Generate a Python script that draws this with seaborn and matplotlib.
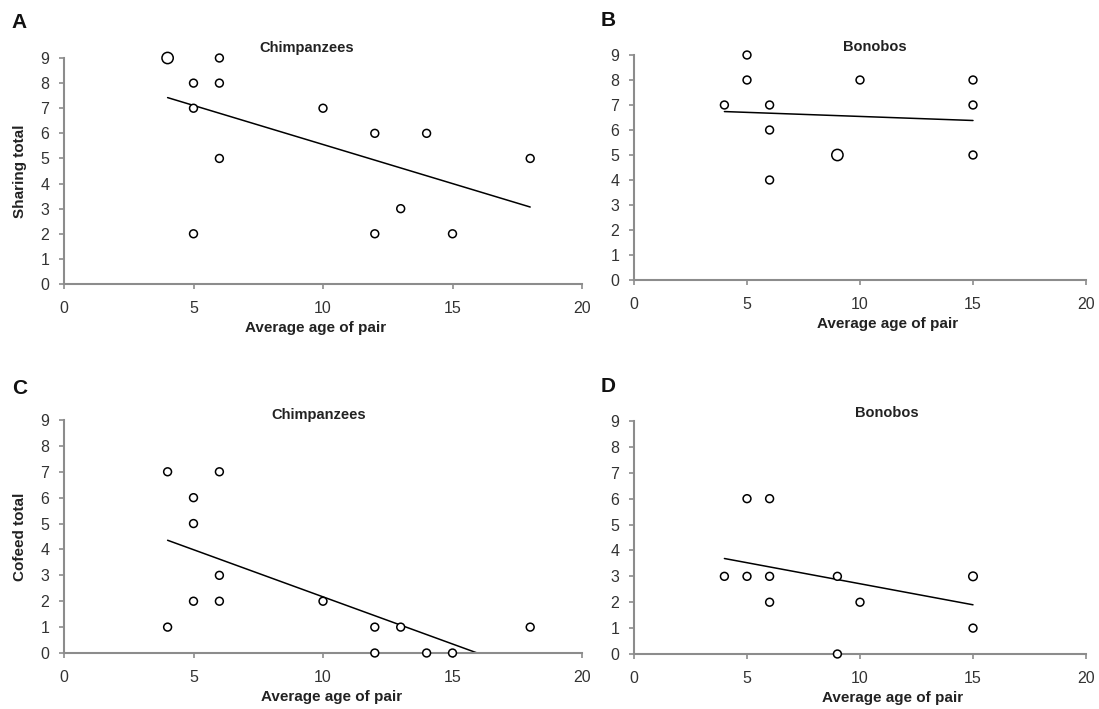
import matplotlib
matplotlib.use("Agg")
import matplotlib.pyplot as plt
import seaborn as sns
import pandas as pd

# data (repeated pairs = overlapping points)
chimp_age = [4, 4, 5, 5, 5, 6, 6, 6, 10, 12, 12, 13, 14, 15, 18]
chimp_sharing = [9, 9, 8, 7, 2, 9, 8, 5, 7, 6, 2, 3, 6, 2, 5]
chimp_age_c = [4, 4, 5, 5, 5, 6, 6, 6, 10, 12, 12, 13, 14, 15, 18]
chimp_cofeed = [7, 1, 6, 5, 2, 7, 3, 2, 2, 1, 0, 1, 0, 0, 1]

bonobo_age = [4, 5, 5, 6, 6, 6, 9, 9, 10, 15, 15, 15]
bonobo_sharing = [7, 9, 8, 7, 6, 4, 5, 5, 8, 8, 7, 5]
bonobo_age_c = [4, 5, 5, 6, 6, 6, 9, 9, 10, 15, 15, 15]
bonobo_cofeed = [3, 6, 3, 6, 3, 2, 3, 0, 2, 3, 3, 1]

x_ticks = [0, 5, 10, 15, 20]
y_ticks = list(range(10))

sns.set_style("ticks")
plt.rcParams['font.family'] = ['Liberation Sans', 'DejaVu Sans']

fig = plt.figure(figsize=(10.99, 7.09), dpi=100)

W, H = 1099, 709


def px_axes(x0, x20, y0, y9):
    return fig.add_axes([x0 / W, (H - y0) / H, (x20 - x0) / W, (y0 - y9) / H])


pannelli = [
    dict(ax=px_axes(64, 582, 284, 58), x=chimp_age, y=chimp_sharing, titolo="Chimpanzees",
         tpos=(0.469, 1.044), ylab="Sharing total", xlab=(0.485, -0.165), dup=66,
         lettera="A", lpos=(19, 22)),
    dict(ax=px_axes(634, 1086, 280, 55), x=bonobo_age, y=bonobo_sharing, titolo="Bonobos",
         tpos=(0.533, 1.036), ylab=None, xlab=(0.56, -0.165), dup=66,
         lettera="B", lpos=(608, 20)),
    dict(ax=px_axes(64, 582, 653, 420), x=chimp_age_c, y=chimp_cofeed, titolo="Chimpanzees",
         tpos=(0.492, 1.021), ylab="Cofeed total", xlab=(0.517, -0.16), dup=66,
         lettera="C", lpos=(20, 388)),
    dict(ax=px_axes(634, 1086, 654, 421), x=bonobo_age_c, y=bonobo_cofeed, titolo="Bonobos",
         tpos=(0.56, 1.034), ylab=None, xlab=(0.573, -0.16), dup=38,
         lettera="D", lpos=(608, 387)),
]

for p in pannelli:
    ax = p["ax"]
    df = pd.DataFrame({"age": p["x"], "total": p["y"]})
    conteggi = df.groupby(["age", "total"]).size().reset_index(name="n")

    # retta di regressione (troncata al range dei dati)
    sns.regplot(data=df, x="age", y="total", scatter=False, ci=None, truncate=True,
                line_kws=dict(color="black", lw=1.1), ax=ax)

    sns.scatterplot(data=conteggi, x="age", y="total", size="n",
                    sizes={1: 32, 2: p["dup"]}, facecolor="white", edgecolor="black",
                    linewidth=1.1, legend=False, clip_on=False, zorder=5, ax=ax)

    ax.set_xlim(0, 20)
    ax.set_ylim(0, 9)
    ax.set_xticks(x_ticks)
    ax.set_yticks(y_ticks)
    ax.tick_params(axis="both", labelsize=11.5, colors="#8c8c8c", labelcolor="#333333",
                   length=3.5, width=1.2, direction="out")
    ax.tick_params(axis="x", pad=9)
    ax.tick_params(axis="y", pad=7)
    sns.despine(ax=ax)
    for s in ["left", "bottom"]:
        ax.spines[s].set_color("#8c8c8c")
        ax.spines[s].set_linewidth(1.5)

    ax.set_xlabel("Average age of pair", fontsize=11, fontweight="bold", color="#222222")
    ax.xaxis.set_label_coords(*p["xlab"])
    if p["ylab"]:
        ax.set_ylabel(p["ylab"], fontsize=11, fontweight="bold", color="#222222")
        ax.yaxis.set_label_coords(-0.072, 0.5)
    else:
        ax.set_ylabel("")

    ax.text(p["tpos"][0], p["tpos"][1], p["titolo"], transform=ax.transAxes,
            ha="center", va="center", fontsize=10.5, fontweight="bold", color="#222222")
    fig.text(p["lpos"][0] / W, 1 - p["lpos"][1] / H, p["lettera"], ha="center", va="center",
             fontsize=15, fontweight="bold", color="#111111")

fig.savefig("out.png", dpi=100)
